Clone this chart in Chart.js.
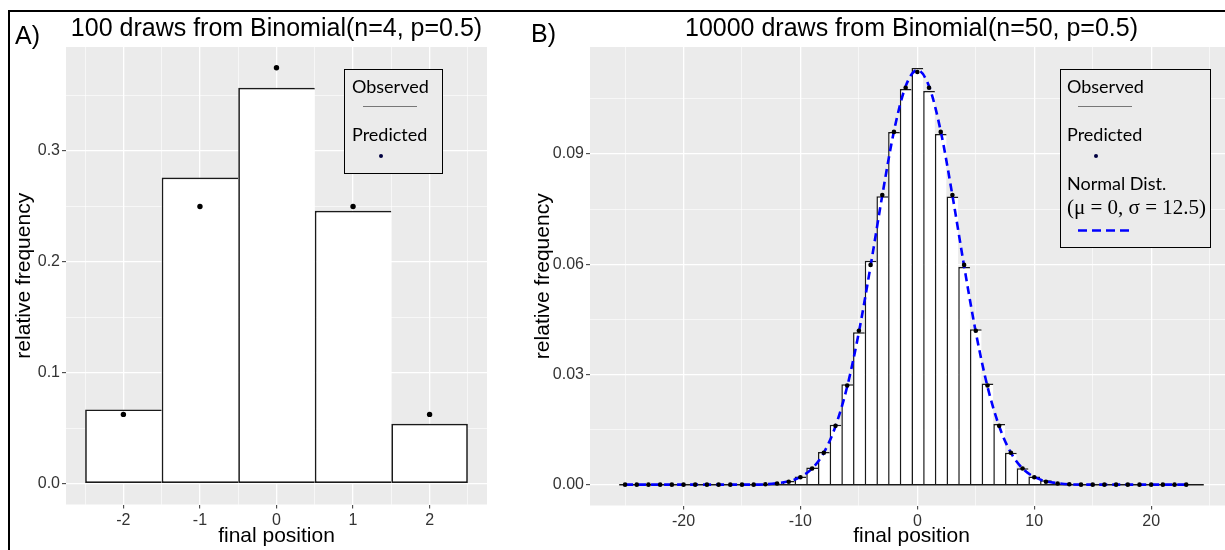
<!DOCTYPE html>
<html>
<head>
<meta charset="utf-8">
<script src="https://cdn.jsdelivr.net/npm/chart.js@4.4.1/dist/chart.umd.min.js"></script>
<style>
  html, body { margin: 0; padding: 0; background: #fff; }
  #page { position: relative; width: 1225px; height: 550px; overflow: hidden; background: #fff; }
  #chartA { position: absolute; left: 0; top: 0; }
  #chartB { position: absolute; left: 520px; top: 0; }
  .tag { position: absolute; font-family: "Liberation Sans", Arial, sans-serif; font-size: 25px; line-height: 25px; color: #000; }
  .frameTop { position: absolute; left: 8px; top: 10px; width: 1217px; height: 2px; background: #000; }
  .frameLeft { position: absolute; left: 8px; top: 10px; width: 2px; height: 540px; background: #000; }
</style>
</head>
<body>
<div id="page">
  <canvas id="chartA" width="500" height="550"></canvas>
  <canvas id="chartB" width="720" height="550"></canvas>
  <div class="tag" style="left:15px; top:23px;">A)</div>
  <div class="tag" style="left:531px; top:21px;">B)</div>
  <div class="frameTop"></div>
  <div class="frameLeft"></div>
</div>
<script>
// panel A: 100 draws, n = 4
const aPositions = [-2, -1, 0, 1, 2];
const aObserved = [0.067, 0.276, 0.357, 0.246, 0.054];
const aPredicted = [0.0625, 0.25, 0.375, 0.25, 0.0625];
const aXMajor = [-2, -1, 0, 1, 2];
const aXMinor = [-2.5, -1.5, -0.5, 0.5, 1.5, 2.5];
const aYMajor = [0, 0.1, 0.2, 0.3];
const aYMinor = [0.05, 0.15, 0.25, 0.35];

// panel B: 10000 draws, n = 50
const bPositions = [-25,-24,-23,-22,-21,-20,-19,-18,-17,-16,-15,-14,-13,-12,-11,-10,-9,-8,-7,-6,-5,-4,-3,-2,-1,
                    0,1,2,3,4,5,6,7,8,9,10,11,12,13,14,15,16,17,18,19,20,21,22,23,24];
const bObserved = [0,0,0,0,0,0,0,0,0,0,0,0,0,
                   0.0003,0.0010,0.0022,0.0047,0.0089,0.0163,0.0273,0.0415,0.0609,0.0785,0.0960,0.1077,
                   0.1134,
                   0.1071,0.0954,0.0784,0.0592,0.0423,0.0275,0.0165,0.0087,0.0045,0.0022,0.0012,0.0003,
                   0,0,0,0,0,0,0,0,0,0,0,0];
const bPredPositions = [-25,-24,-23,-22,-21,-20,-19,-18,-17,-16,-15,-14,-13,-12,-11,-10,-9,-8,-7,-6,-5,-4,-3,-2,-1,
                        0,1,2,3,4,5,6,7,8,9,10,11,12,13,14,15,16,17,18,19,20,21,22,23];
const bPredicted = [0,0,0,0,0,0,0,0,0,0,0,0,
                    0.0001,0.0003,0.0008,0.0020,0.0044,0.0087,0.0160,0.0270,0.0419,0.0598,0.0788,0.0960,0.1080,
                    0.1123,
                    0.1080,0.0960,0.0788,0.0598,0.0419,0.0270,0.0160,0.0087,0.0044,0.0020,0.0008,0.0003,0.0001,
                    0,0,0,0,0,0,0,0,0,0];
const bNormal = [0,0,0,0,0,0,0,0,0,0,0,0,
                 0.0001,0.0004,0.0009,0.0021,0.0044,0.0087,0.0159,0.0267,0.0415,0.0595,0.0787,0.0962,0.1084,
                 0.1128,
                 0.1084,0.0962,0.0787,0.0595,0.0415,0.0267,0.0159,0.0087,0.0044,0.0021,0.0009,0.0004,0.0001,
                 0,0,0,0,0,0,0,0,0,0];
const bXMajor = [-20, -10, 0, 10, 20];
const bXMinor = [-25, -15, -5, 5, 15, 25];
const bYMajor = [0, 0.03, 0.06, 0.09];
const bYMinor = [0.015, 0.045, 0.075, 0.105];

Chart.defaults.font.family = '"Liberation Sans", Arial, sans-serif';

function points(xs, ys) {
  return xs.map((x, i) => ({ x: x, y: ys[i] }));
}

// only the left edge is drawn between neighbours, so shared edges stay single
function barBorder(values, w) {
  return function (ctx) {
    const i = ctx.dataIndex;
    if (i === undefined) return w;
    const closeRight = i === values.length - 1 || values[i + 1] === 0;
    return { top: w, left: w, bottom: w, right: closeRight ? w : 0 };
  };
}

function axis(major, minor, min, max, fmt, size, title, titlePad) {
  return {
    type: 'linear',
    min: min,
    max: max,
    offset: false,
    afterBuildTicks: function (scale) {
      scale.ticks = major.concat(minor).sort((a, b) => a - b).map(v => ({ value: v }));
    },
    afterFit: function (scale) {
      if (scale.isHorizontal()) scale.height = size; else scale.width = size;
    },
    border: { display: false },
    grid: {
      offset: false,
      color: '#ffffff',
      lineWidth: c => (c.tick && major.includes(c.tick.value)) ? 1.3 : 0.6,
      tickColor: c => (c.tick && major.includes(c.tick.value)) ? '#333333' : 'rgba(0,0,0,0)',
      tickLength: 4,
      tickWidth: 1
    },
    ticks: {
      autoSkip: false,
      maxRotation: 0,
      padding: 2,
      color: '#333333',
      font: { size: 16 },
      callback: v => major.includes(v) ? fmt(v) : ''
    },
    title: {
      display: true,
      text: title,
      color: '#000',
      font: { size: 21 },
      padding: titlePad
    }
  };
}

const panelBg = {
  id: 'panelBg',
  beforeDraw(chart) {
    const a = chart.chartArea;
    chart.ctx.save();
    chart.ctx.fillStyle = '#ebebeb';
    chart.ctx.fillRect(a.left, a.top, a.right - a.left, a.bottom - a.top);
    chart.ctx.restore();
  }
};

function drawKey(chart, box, rows) {
  const c = chart.ctx;
  c.save();
  c.fillStyle = '#ebebeb';
  c.fillRect(box.x, box.y, box.w, box.h);
  c.strokeStyle = '#000';
  c.lineWidth = 1;
  c.strokeRect(box.x, box.y, box.w, box.h);
  c.textBaseline = 'middle';
  c.textAlign = 'left';
  rows.forEach(r => {
    if (r.text) {
      c.fillStyle = '#000';
      c.font = r.font || '18px Lato';
      c.fillText(r.text, r.x, r.y);
    } else if (r.line) {
      c.beginPath();
      c.strokeStyle = r.color;
      c.lineWidth = r.width;
      c.setLineDash(r.dash || []);
      c.moveTo(r.x, r.y);
      c.lineTo(r.x + r.len, r.y);
      c.stroke();
      c.setLineDash([]);
    } else if (r.dot) {
      c.beginPath();
      c.fillStyle = '#000040';
      c.arc(r.x, r.y, 2, 0, Math.PI * 2);
      c.fill();
    }
  });
  c.restore();
}

const titleFont = { size: 25, weight: 'normal' };

new Chart(document.getElementById('chartA'), {
  type: 'bar',
  data: {
    datasets: [
      {
        type: 'bar',
        data: points(aPositions, aObserved),
        backgroundColor: '#ffffff',
        borderColor: '#1a1a1a',
        borderWidth: barBorder(aObserved, 1.7),
        borderSkipped: false,
        inflateAmount: 0,
        barPercentage: 1,
        // the bar ruler also counts the half-step grid ticks, so double it back to one unit
        categoryPercentage: 2,
        order: 2
      },
      {
        type: 'line',
        data: points(aPositions, aPredicted),
        showLine: false,
        pointRadius: 2.7,
        pointBackgroundColor: '#000',
        pointBorderWidth: 0,
        order: 0
      }
    ]
  },
  options: {
    responsive: false,
    animation: false,
    layout: { padding: { left: 0, right: 13, top: 0, bottom: 0 } },
    scales: {
      x: axis(aXMajor, aXMinor, -2.75, 2.75, v => String(v), 45.5, 'final position', { top: 0, bottom: 1 }),
      y: axis(aYMajor, aYMinor, -0.01875, 0.39375, v => v.toFixed(1), 66, 'relative frequency', { top: 12, bottom: 0 })
    },
    plugins: {
      legend: { display: false },
      tooltip: { enabled: false },
      title: {
        display: true,
        fullSize: false,
        text: '100 draws from Binomial(n=4, p=0.5)',
        color: '#000',
        font: titleFont,
        padding: { top: 14, bottom: 3 }
      }
    }
  },
  plugins: [panelBg, {
    id: 'keyA',
    afterDraw(chart) {
      drawKey(chart, { x: 344.5, y: 69.5, w: 98, h: 104 }, [
        { text: 'Observed', x: 352, y: 87 },
        { line: true, x: 363, y: 106.5, len: 54, color: '#777', width: 1 },
        { text: 'Predicted', x: 352, y: 135 },
        { dot: true, x: 381, y: 156 }
      ]);
    }
  }]
});

new Chart(document.getElementById('chartB'), {
  type: 'bar',
  data: {
    datasets: [
      {
        type: 'bar',
        data: points(bPositions, bObserved),
        backgroundColor: '#ffffff',
        borderColor: '#1a1a1a',
        borderWidth: barBorder(bObserved, 1.5),
        borderSkipped: 'start',
        inflateAmount: 0,
        barPercentage: 1,
        categoryPercentage: 1,
        order: 3
      },
      {
        type: 'line',
        data: [
          { x: bPositions[0] - 0.5, y: 0 },
          { x: bPositions[bPositions.length - 1] + 0.5, y: 0 }
        ],
        borderColor: '#1a1a1a',
        borderWidth: 1.5,
        pointRadius: 0,
        order: 2
      },
      {
        type: 'line',
        data: points(bPredPositions, bNormal),
        borderColor: '#0000ff',
        borderWidth: 2.6,
        borderDash: [8, 5],
        pointRadius: 0,
        cubicInterpolationMode: 'monotone',
        fill: false,
        order: 1
      },
      {
        type: 'line',
        data: points(bPredPositions, bPredicted),
        showLine: false,
        pointRadius: 2.3,
        pointBackgroundColor: '#000',
        pointBorderWidth: 0,
        order: 0
      }
    ]
  },
  options: {
    responsive: false,
    animation: false,
    layout: { padding: { left: 0, right: 7, top: 0, bottom: 0 } },
    scales: {
      x: axis(bXMajor, bXMinor, -28, 27, v => String(v), 44.5, 'final position', { top: 0, bottom: 1 }),
      y: axis(bYMajor, bYMinor, -0.00567, 0.1191, v => v.toFixed(2), 70, 'relative frequency', { top: 11, bottom: 0 })
    },
    plugins: {
      legend: { display: false },
      tooltip: { enabled: false },
      title: {
        display: true,
        fullSize: false,
        text: '10000 draws from Binomial(n=50, p=0.5)',
        color: '#000',
        font: titleFont,
        padding: { top: 14, bottom: 3 }
      }
    }
  },
  plugins: [panelBg, {
    id: 'keyB',
    afterDraw(chart) {
      drawKey(chart, { x: 540.5, y: 69.5, w: 150, h: 178 }, [
        { text: 'Observed', x: 547, y: 87 },
        { line: true, x: 558, y: 106.5, len: 54, color: '#777', width: 1 },
        { text: 'Predicted', x: 547, y: 135 },
        { dot: true, x: 576, y: 156 },
        { text: 'Normal Dist.', x: 547, y: 184 },
        { text: '(\u03bc = 0, \u03c3 = 12.5)', x: 547, y: 208, font: '21px "Liberation Serif"' },
        { line: true, x: 558, y: 230.5, len: 51, color: '#0000ff', width: 2.5, dash: [9, 5] }
      ]);
    }
  }]
});
</script>
</body>
</html>
